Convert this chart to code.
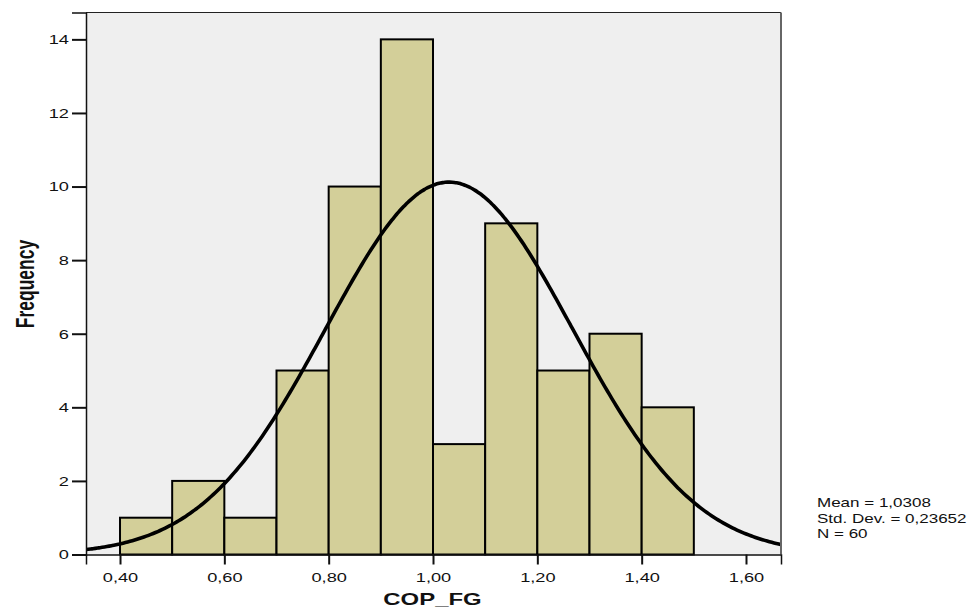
<!DOCTYPE html>
<html>
<head>
<meta charset="utf-8">
<script src="https://cdn.jsdelivr.net/npm/d3@7"></script>
<style>
  body { margin: 0; background: #fff; }
  text { font-family: "Liberation Sans", Arial, sans-serif; fill: #111; }
</style>
</head>
<body>
<div id="chart"></div>
<script>
// histogram bins (lower edge, upper edge) and counts
const binStarts = [0.4, 0.5, 0.6, 0.7, 0.8, 0.9, 1.0, 1.1, 1.2, 1.3, 1.4];
const binWidth = 0.1;
const counts = [1, 2, 1, 5, 10, 14, 3, 9, 5, 6, 4];

const xTicks = [0.4, 0.6, 0.8, 1.0, 1.2, 1.4, 1.6];
const yTicks = [0, 2, 4, 6, 8, 10, 12, 14];

// summary stats shown on the right
const mean = 1.0308;
const stdDev = 0.23652;
const n = 60;
const statLines = ["Mean = 1,0308", "Std. Dev. = 0,23652", "N = 60"];

const width = 980;
const height = 612;
const plot = { left: 86, right: 781, top: 12.5, bottom: 554.5 };
const stretch = 1.35; // text in the reference is drawn wide

const fmt = (v) => v.toFixed(2).replace(".", ",");

const xScale = d3
  .scaleLinear()
  .domain([0.3348, 1.6671])
  .range([plot.left, plot.right]);

const yScale = d3
  .scaleLinear()
  .domain([0, 14.73])
  .range([plot.bottom, plot.top]);

const svg = d3
  .select("#chart")
  .append("svg")
  .attr("width", width)
  .attr("height", height);

/* plot background */
svg
  .append("rect")
  .attr("x", plot.left)
  .attr("y", plot.top)
  .attr("width", plot.right - plot.left)
  .attr("height", plot.bottom - plot.top)
  .attr("fill", "#efefef");

/* bars */
svg
  .append("g")
  .selectAll("rect")
  .data(counts)
  .enter()
  .append("rect")
  .attr("x", (d, i) => xScale(binStarts[i]))
  .attr("y", (d) => yScale(d))
  .attr("width", (d, i) => xScale(binStarts[i] + binWidth) - xScale(binStarts[i]))
  .attr("height", (d) => yScale(0) - yScale(d))
  .attr("fill", "#d3cf99")
  .attr("stroke", "#000")
  .attr("stroke-width", 2);

/* fitted normal curve */
svg
  .append("clipPath")
  .attr("id", "plotClip")
  .append("rect")
  .attr("x", plot.left)
  .attr("y", plot.top)
  .attr("width", plot.right - plot.left)
  .attr("height", plot.bottom - plot.top);

const dom = xScale.domain();
const curvePts = d3.range(0, 301).map((k) => {
  const v = dom[0] + ((dom[1] - dom[0]) * k) / 300;
  const z = (v - mean) / stdDev;
  const f = (n * binWidth) / (stdDev * Math.sqrt(2 * Math.PI)) * Math.exp(-0.5 * z * z);
  return [v, f];
});

const line = d3
  .line()
  .curve(d3.curveBasis)
  .x((d) => xScale(d[0]))
  .y((d) => yScale(d[1]));

svg
  .append("path")
  .attr("d", line(curvePts))
  .attr("clip-path", "url(#plotClip)")
  .attr("fill", "none")
  .attr("stroke", "#000")
  .attr("stroke-width", 3.6);

/* frame */
svg
  .append("line")
  .attr("x1", plot.left).attr("x2", plot.right)
  .attr("y1", plot.top).attr("y2", plot.top)
  .attr("stroke", "#222").attr("stroke-width", 1.2);
svg
  .append("line")
  .attr("x1", plot.right).attr("x2", plot.right)
  .attr("y1", plot.top).attr("y2", plot.bottom)
  .attr("stroke", "#666").attr("stroke-width", 2);

/* axes */
const yAxis = d3
  .axisLeft(yScale)
  .tickValues(yTicks)
  .tickSize(14)
  .tickFormat(d3.format("d"));

const yG = svg
  .append("g")
  .attr("transform", `translate(${plot.left},0)`)
  .call(yAxis);
yG.select(".domain").attr("stroke", "#111").attr("stroke-width", 1.5);
yG.selectAll(".tick line").attr("stroke", "#111").attr("stroke-width", 2);
yG.selectAll(".tick text")
  .attr("x", 0)
  .attr("transform", `translate(-17,0) scale(${stretch},1)`)
  .style("font-size", "13.5px")
  .style("font-family", "'Liberation Sans', Arial, sans-serif")
  .attr("fill", "#111");

const xAxis = d3
  .axisBottom(xScale)
  .tickValues(xTicks)
  .tickSize(10)
  .tickFormat(fmt);

const xG = svg
  .append("g")
  .attr("transform", `translate(0,${plot.bottom})`)
  .call(xAxis);
xG.select(".domain").attr("stroke", "#111").attr("stroke-width", 1.5);
xG.selectAll(".tick line").attr("stroke", "#111").attr("stroke-width", 2);
xG.selectAll(".tick text")
  .attr("y", 0)
  .attr("dy", 0)
  .attr("transform", `translate(0,27) scale(${stretch},1)`)
  .style("font-size", "13.5px")
  .style("font-family", "'Liberation Sans', Arial, sans-serif")
  .attr("fill", "#111");

/* axis titles */
svg
  .append("text")
  .attr("transform", `translate(${(plot.left + plot.right) / 2 - 1},605) scale(1.45,1)`)
  .attr("text-anchor", "middle")
  .style("font-size", "16.5px")
  .style("font-weight", "bold")
  .text("COP_FG");

svg
  .append("text")
  .attr("transform", "translate(34,284) scale(1.5,1) rotate(-90)")
  .attr("text-anchor", "middle")
  .style("font-size", "17.5px")
  .style("font-weight", "bold")
  .text("Frequency");

/* stats block */
svg
  .append("g")
  .selectAll("text")
  .data(statLines)
  .enter()
  .append("text")
  .attr("transform", (d, i) => `translate(817,${507 + i * 15.5}) scale(1.31,1)`)
  .style("font-size", "13px")
  .text((d) => d);
</script>
</body>
</html>
